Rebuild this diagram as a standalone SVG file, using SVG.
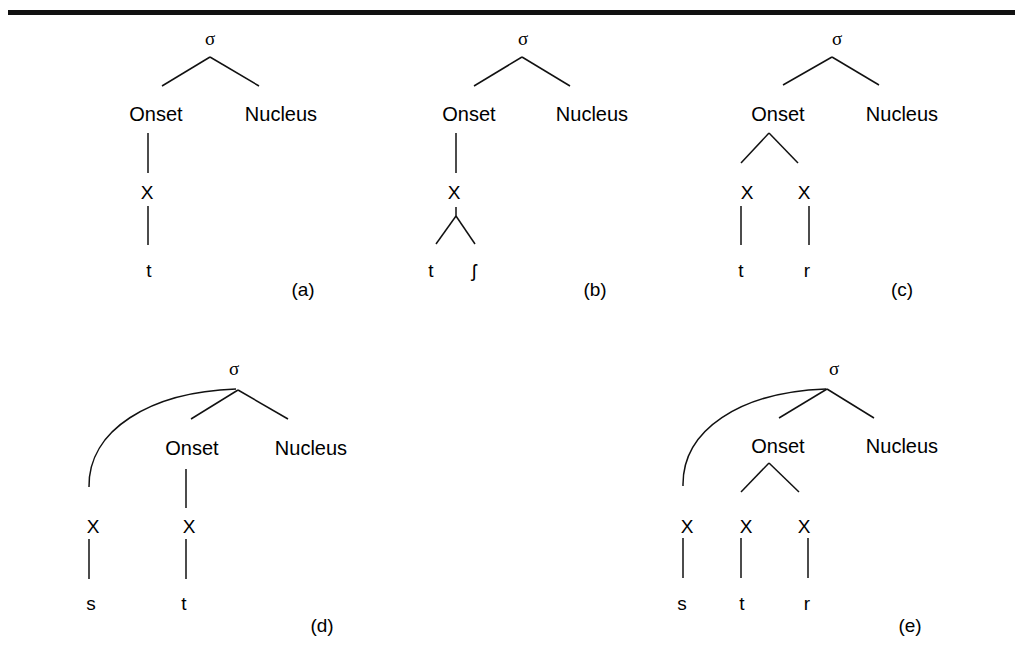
<svg xmlns="http://www.w3.org/2000/svg" width="1019" height="656" viewBox="0 0 1019 656">
<style>
text{font-family:"Liberation Sans",Arial,sans-serif;fill:#000;text-anchor:middle}
.n{font-size:20px}
.s{font-size:19px}
.g{font-family:"Liberation Serif","Times New Roman",serif;font-size:19px}
.c line,.c path{stroke:#111;stroke-width:1.5;fill:none}
</style>
<rect width="1019" height="656" fill="#fff"/>
<rect x="8" y="10" width="1007" height="5" fill="#111"/>
<g class="c" id="connectors">
<line x1="210" y1="57" x2="162" y2="86"/><line x1="210" y1="57" x2="259" y2="86"/>
<line x1="148" y1="133" x2="148" y2="173"/><line x1="148" y1="206" x2="148" y2="245"/>
<line x1="522" y1="57" x2="474" y2="86"/><line x1="522" y1="57" x2="570" y2="86"/>
<line x1="456" y1="133" x2="456" y2="173"/>
<line x1="456" y1="207" x2="456" y2="216"/>
<line x1="456" y1="216" x2="436" y2="244"/><line x1="456" y1="216" x2="475" y2="244"/>
<line x1="832" y1="57" x2="783" y2="85"/><line x1="832" y1="57" x2="879" y2="85"/>
<line x1="769" y1="133" x2="741" y2="163"/><line x1="769" y1="133" x2="798" y2="163"/>
<line x1="741" y1="206" x2="741" y2="245"/><line x1="809" y1="206" x2="809" y2="245"/>
<line x1="238" y1="390" x2="191" y2="419"/><line x1="238" y1="390" x2="288" y2="419"/>
<path d="M236 389 C150 392 88 430 89 487"/>
<line x1="186" y1="469" x2="186" y2="508"/>
<line x1="89" y1="539" x2="89" y2="579"/><line x1="186" y1="539" x2="186" y2="579"/>
<line x1="827" y1="389" x2="779" y2="418"/><line x1="827" y1="389" x2="874" y2="418"/>
<path d="M826 389 C740 392 682 430 683 486"/>
<line x1="769" y1="463" x2="741" y2="492"/><line x1="769" y1="463" x2="799" y2="492"/>
<line x1="683" y1="538" x2="683" y2="578"/><line x1="741" y1="538" x2="741" y2="578"/><line x1="808" y1="538" x2="808" y2="578"/>
</g>
<g id="a">
<text class="g" x="210" y="45">σ</text>
<text class="n" x="156" y="121">Onset</text>
<text class="n" x="281" y="121">Nucleus</text>
<text class="s" x="147" y="199">X</text>
<text class="s" x="149" y="277">t</text>
<text class="s" x="303" y="296">(a)</text>
</g>
<g id="b">
<text class="g" x="523" y="45">σ</text>
<text class="n" x="469" y="121">Onset</text>
<text class="n" x="592" y="121">Nucleus</text>
<text class="s" x="454" y="199">X</text>
<text class="s" x="431" y="277">t</text>
<text class="s" x="474" y="277">ʃ</text>
<text class="s" x="595" y="296">(b)</text>
</g>
<g id="c">
<text class="g" x="837" y="45">σ</text>
<text class="n" x="778" y="121">Onset</text>
<text class="n" x="902" y="121">Nucleus</text>
<text class="s" x="747" y="199">X</text>
<text class="s" x="804" y="199">X</text>
<text class="s" x="741" y="277">t</text>
<text class="s" x="807" y="277">r</text>
<text class="s" x="902" y="296">(c)</text>
</g>
<g id="d">
<text class="g" x="234" y="375">σ</text>
<text class="n" x="192" y="455">Onset</text>
<text class="n" x="311" y="455">Nucleus</text>
<text class="s" x="93" y="533">X</text>
<text class="s" x="189" y="533">X</text>
<text class="s" x="91" y="610">s</text>
<text class="s" x="184" y="610">t</text>
<text class="s" x="322" y="632">(d)</text>
</g>
<g id="e">
<text class="g" x="834" y="375">σ</text>
<text class="n" x="778" y="453">Onset</text>
<text class="n" x="902" y="453">Nucleus</text>
<text class="s" x="687" y="533">X</text>
<text class="s" x="746" y="533">X</text>
<text class="s" x="804" y="533">X</text>
<text class="s" x="682" y="610">s</text>
<text class="s" x="742" y="610">t</text>
<text class="s" x="807" y="610">r</text>
<text class="s" x="910" y="632">(e)</text>
</g>
</svg>
